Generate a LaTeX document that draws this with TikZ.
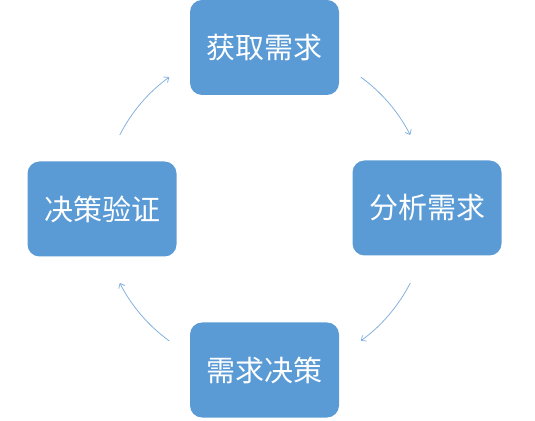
\documentclass[tikz,border=0pt]{standalone}
\usepackage{fontspec}
\newfontfamily\cjk{Noto Sans CJK SC}
\usetikzlibrary{arrows.meta}
\definecolor{boxblue}{HTML}{5B9BD5}
\definecolor{arrowblue}{HTML}{7FAEDD}
\tikzset{
  stagebox/.style={draw=none, fill=boxblue, rounded corners=12pt, minimum width=149pt, minimum height=95pt, text=white, font=\cjk\fontsize{29}{32}\selectfont, inner sep=0pt},
  cyclearrow/.style={draw=arrowblue, line width=0.75pt, -{Straight Barb[length=4pt,width=7pt]}}
}
\begin{document}
\begin{tikzpicture}[x=1pt,y=1pt]
\useasboundingbox (0,0) rectangle (535,420);
\node[stagebox] (get) at (264.5,372.5) {获取需求};
\node[stagebox] (ana) at (427,212) {分析需求};
\node[stagebox] (dec) at (264.5,50) {需求决策};
\node[stagebox] (ver) at (102,211) {决策验证};
\coordinate (c) at (265,211);
\draw[cyclearrow] (c) ++(54:163) arc[start angle=54, end angle=27, radius=163];
\draw[cyclearrow] (c) ++(-27:163) arc[start angle=-27, end angle=-54, radius=163];
\draw[cyclearrow] (c) ++(234:163) arc[start angle=234, end angle=207, radius=163];
\draw[cyclearrow] (c) ++(153:163) arc[start angle=153, end angle=126, radius=163];
\end{tikzpicture}
\end{document}
